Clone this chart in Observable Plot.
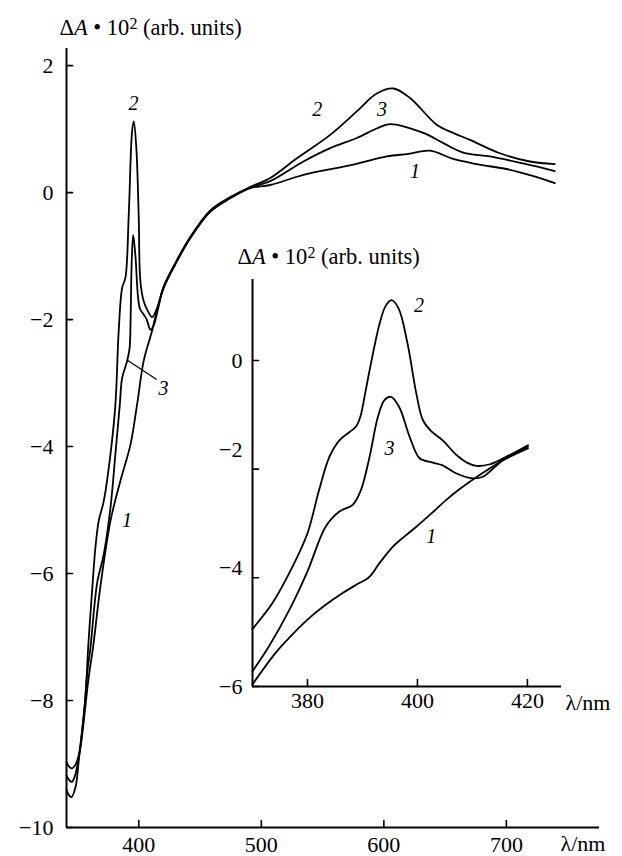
<!DOCTYPE html>
<html><head><meta charset="utf-8">
<script src="https://cdn.jsdelivr.net/npm/d3@7"></script>
<script src="https://cdn.jsdelivr.net/npm/@observablehq/plot@0.6"></script>
<style>
body{margin:0;background:#fff;}
#wrap{position:relative;width:622px;height:856px;}
#wrap svg{position:absolute;left:0;top:0;}
</style></head><body><div id="wrap"></div>
<script>
// ---------- main chart data ----------
const mainWl1 = [341, 343.5, 345.5, 348, 349.7, 352.4, 355.1, 359, 362.7, 368.7, 376.9, 385, 393.2, 398.6, 404, 410.8, 414.9, 420.3, 431.2, 442, 458.4, 474.7, 491, 507.3, 534.4, 575.2, 602.4, 620, 637.7, 656.6, 675.7, 702.9, 720, 739.5];
const mainVal1 = [-8.97, -9.05, -9.07, -9.02, -8.95, -8.74, -8.32, -7.65, -7.16, -6.2, -5.17, -4.54, -3.97, -3.34, -2.65, -2.18, -1.85, -1.5, -1.08, -0.72, -0.3, -0.09, 0.07, 0.12, 0.28, 0.44, 0.57, 0.61, 0.66, 0.53, 0.45, 0.36, 0.27, 0.15];

const mainWl2 = [341, 343, 345, 348.3, 351, 353.8, 356.5, 358.7, 361.9, 364.6, 367.3, 371.4, 376.9, 380.9, 383.6, 386.4, 389.1, 391.8, 394.5, 395.9, 398, 399.9, 401.3, 404, 407, 410.8, 414.9, 420.3, 431.2, 442, 458.4, 474.7, 491, 507.3, 529, 556.2, 577.9, 594.2, 607.8, 621.4, 643.1, 656.6, 670.3, 694.7, 719.2, 739.5];
const mainVal2 = [-9.4, -9.49, -9.52, -9.37, -8.95, -8.47, -7.95, -7.16, -6.27, -5.59, -5.17, -4.86, -4.12, -3.34, -2.18, -1.5, -1.34, -0.35, 0.96, 1.12, 0.7, -0.35, -1.4, -1.71, -1.85, -1.96, -1.82, -1.48, -1.06, -0.7, -0.28, -0.07, 0.09, 0.23, 0.54, 0.91, 1.28, 1.56, 1.64, 1.49, 1.07, 0.94, 0.83, 0.62, 0.49, 0.45];

const mainWl3 = [341, 343.5, 345.5, 348, 350.5, 353, 355.5, 358, 360.6, 366, 371.4, 376.9, 380.9, 384.5, 386.4, 390.5, 392.5, 393.3, 394.2, 395.4, 397.2, 400.8, 404, 406.5, 409.5, 412, 414.9, 420.3, 431.2, 442, 458.4, 474.7, 491, 507.3, 534.4, 556.2, 577.9, 594.2, 605, 632.2, 648.5, 664.8, 686.6, 713.7, 739.5];
const mainVal3 = [-9.18, -9.26, -9.28, -9.18, -8.95, -8.6, -8.15, -7.55, -7.16, -6.15, -5.7, -4.96, -4.12, -3.34, -2.92, -2.65, -2.45, -2.0, -1.1, -0.67, -0.98, -1.82, -1.92, -2.0, -2.16, -2.1, -1.9, -1.49, -1.07, -0.71, -0.29, -0.08, 0.08, 0.18, 0.49, 0.7, 0.86, 1.01, 1.08, 0.94, 0.78, 0.63, 0.57, 0.46, 0.34];

const mainXTicks = [400, 500, 600, 700];
const mainYTicks = [2, 0, -2, -4, -6, -8, -10];
const mainXDomain = [341, 776];
const mainYDomain = [-10, 2.27];

const mainLabelText = ["2", "2", "3", "1", "3", "1"];
const mainLabelX = [395.6, 545.6, 598.5, 625.4, 420.1, 390.4];
const mainLabelY = [1.40, 1.31, 1.31, 0.33, -3.08, -5.17];
const leaderX = [390.7, 414.3];
const leaderY = [-2.64, -2.94];

// ---------- inset data ----------
const inWl1 = [370, 374.2, 377, 380, 383, 386.4, 389, 391.2, 393.1, 395.5, 397.5, 399.8, 402.5, 405.2, 407.5, 410.1, 412.5, 415, 417.5, 420.1];
const inVal1 = [-5.96, -5.38, -5.07, -4.77, -4.52, -4.28, -4.12, -3.99, -3.73, -3.43, -3.25, -3.06, -2.82, -2.57, -2.38, -2.19, -2.03, -1.87, -1.74, -1.62];
const inWl2 = [370, 373.6, 377.3, 380, 382.1, 384, 385.8, 387.6, 388.8, 389.6, 390.5, 391.3, 393.1, 394.2, 395.3, 396.6, 398.2, 399.8, 401, 402.5, 404.6, 407.1, 409, 410.7, 413.2, 416.2, 420.1];
const inVal2 = [-4.94, -4.47, -3.79, -3.18, -2.39, -1.77, -1.47, -1.32, -1.22, -1.04, -0.6, -0.18, 0.67, 1.0, 1.11, 0.95, 0.31, -0.61, -1.1, -1.3, -1.47, -1.74, -1.88, -1.94, -1.91, -1.77, -1.56];
const inWl3 = [370, 373, 376.7, 380, 383.3, 385.8, 388.2, 389.7, 391.3, 392.8, 394, 395.2, 396.7, 398.6, 400.4, 402.8, 404.6, 407.1, 410.1, 411.9, 415.6, 420.1];
const inVal3 = [-5.72, -5.26, -4.59, -3.88, -3.06, -2.78, -2.66, -2.39, -1.77, -1.04, -0.73, -0.67, -0.86, -1.41, -1.8, -1.88, -1.93, -2.08, -2.17, -2.14, -1.83, -1.59];

const inXTicks = [380, 400, 420];
const inYTicks = [0, -2, -4, -6];
const inXDomain = [370, 426.2];
const inYDomain = [-6, 1.49];

const inLabelText = ["2", "3", "1"];
const inLabelX = [400.3, 394.9, 402.5];
const inLabelY = [1.01, -1.63, -3.25];

const yTitle = "ΔA • 10² (arb. units)";
const xTitle = "λ/nm";

// ---------- build ----------
const FONT = "'Liberation Serif', 'Times New Roman', serif";
const FS = 22;
const rows = (s, wl, v) => wl.map((x, i) => ({s, x, y: v[i]}));
const mainData = [...rows("1", mainWl1, mainVal1), ...rows("2", mainWl2, mainVal2), ...rows("3", mainWl3, mainVal3)];
const inData = [...rows("1", inWl1, inVal1), ...rows("2", inWl2, inVal2), ...rows("3", inWl3, inVal3)];
const mainLabels = mainLabelText.map((t, i) => ({t, x: mainLabelX[i], y: mainLabelY[i]}));
const inLabels = inLabelText.map((t, i) => ({t, x: inLabelX[i], y: inLabelY[i]}));
const tickShape = {draw(ctx, l) { ctx.moveTo(0, 0); ctx.lineTo(0, -l); }};
const fmt = d3.format("d");

const mainPlot = Plot.plot({
  width: 622, height: 856,
  marginLeft: 66, marginRight: 23, marginTop: 48, marginBottom: 29,
  style: {fontFamily: FONT, fontSize: FS + "px", background: "transparent", color: "#000"},
  x: {domain: mainXDomain},
  y: {domain: mainYDomain},
  marks: [
    Plot.axisX(mainXTicks, {tickSize: 0, tickPadding: 9, label: null, tickFormat: fmt, fontSize: FS}),
    Plot.axisY(mainYTicks, {tickSize: 0, tickPadding: 13, label: null, tickFormat: fmt, fontSize: FS}),
    Plot.ruleX([mainXDomain[0]], {stroke: "#000", strokeWidth: 2}),
    Plot.ruleY([mainYDomain[0]], {stroke: "#000", strokeWidth: 2}),
    Plot.vector(mainXTicks, {x: d => d, y: mainYDomain[0], length: 7, anchor: "start", shape: tickShape, stroke: "#000", strokeWidth: 1.6}),
    Plot.vector(mainYTicks, {x: mainXDomain[0], y: d => d, length: 6, rotate: 90, anchor: "start", shape: tickShape, stroke: "#000", strokeWidth: 1.6}),
    Plot.line(mainData, {x: "x", y: "y", z: "s", stroke: "#000", strokeWidth: 1.8, curve: "catmull-rom", strokeLinejoin: "round"}),
    Plot.line(leaderX.map((x, i) => ({x, y: leaderY[i]})), {x: "x", y: "y", stroke: "#000", strokeWidth: 1.2}),
    Plot.text(mainLabels, {x: "x", y: "y", text: "t", fontStyle: "italic", fontSize: 20, fill: "#000"}),
    Plot.text([yTitle], {frameAnchor: "top-left", lineAnchor: "middle", textAnchor: "start", dx: -7, dy: -21, fill: "#000", fontSize: 22.5}),
    Plot.text([xTitle], {frameAnchor: "bottom-right", lineAnchor: "middle", textAnchor: "start", dx: -39, dy: 16, fill: "#000", fontSize: 22})
  ]
});

const inPlot = Plot.plot({
  width: 622, height: 856,
  marginLeft: 252, marginRight: 61, marginTop: 279, marginBottom: 170,
  style: {fontFamily: FONT, fontSize: FS + "px", background: "transparent", color: "#000"},
  x: {domain: inXDomain},
  y: {domain: inYDomain},
  marks: [
    Plot.axisX(inXTicks, {tickSize: 0, tickPadding: 6, label: null, tickFormat: fmt, fontSize: FS}),
    Plot.axisY([inYTicks[0], inYTicks[3]], {tickSize: 0, tickPadding: 10, label: null, tickFormat: fmt, fontSize: FS}),
    Plot.axisY([inYTicks[1]], {tickSize: 0, tickPadding: 10, label: null, tickFormat: fmt, fontSize: FS, dy: -19}),
    Plot.axisY([inYTicks[2]], {tickSize: 0, tickPadding: 10, label: null, tickFormat: fmt, fontSize: FS, dy: -10}),
    Plot.ruleX([inXDomain[0]], {stroke: "#000", strokeWidth: 2}),
    Plot.ruleY([inYDomain[0]], {stroke: "#000", strokeWidth: 2}),
    Plot.vector(inXTicks, {x: d => d, y: inYDomain[0], length: 7, anchor: "start", shape: tickShape, stroke: "#000", strokeWidth: 1.6}),
    Plot.vector(inYTicks, {x: inXDomain[0], y: d => d, length: 6, rotate: 90, anchor: "start", shape: tickShape, stroke: "#000", strokeWidth: 1.6}),
    Plot.line(inData, {x: "x", y: "y", z: "s", stroke: "#000", strokeWidth: 1.8, curve: "catmull-rom", strokeLinejoin: "round"}),
    Plot.text(inLabels, {x: "x", y: "y", text: "t", fontStyle: "italic", fontSize: 20, fill: "#000"}),
    Plot.text([yTitle], {frameAnchor: "top-left", lineAnchor: "middle", textAnchor: "start", dx: -15, dy: -23, fill: "#000", fontSize: 22.5}),
    Plot.text([xTitle], {frameAnchor: "bottom-right", lineAnchor: "middle", textAnchor: "start", dx: 4, dy: 16, fill: "#000", fontSize: 22})
  ]
});

function richTitle(svg) {
  d3.select(svg).selectAll("text").filter(function () { return this.textContent === yTitle; }).each(function () {
    const t = d3.select(this);
    t.text(null);
    t.append("tspan").text("Δ");
    t.append("tspan").attr("font-style", "italic").text("A");
    t.append("tspan").text(" • 10");
    t.append("tspan").attr("font-size", "16px").attr("dy", "-6").text("2");
    t.append("tspan").attr("dy", "6").text(" (arb. units)");
  });
}
richTitle(mainPlot);
richTitle(inPlot);

const wrap = document.getElementById("wrap");
wrap.appendChild(mainPlot);
wrap.appendChild(inPlot);
</script></body></html>
